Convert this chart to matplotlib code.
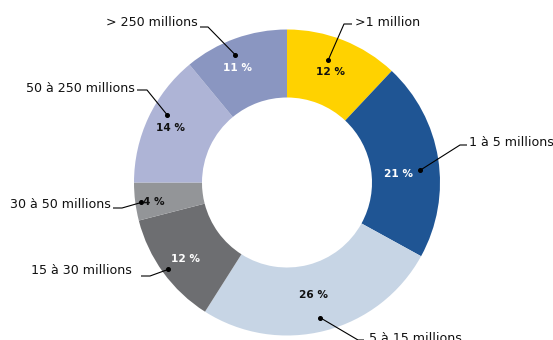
import numpy as np
import matplotlib
matplotlib.use("Agg")
import matplotlib.pyplot as plt

# Share of companies by revenue bracket
categories = [">1 million", "1 à 5 millions", "5 à 15 millions", "15 à 30 millions",
              "30 à 50 millions", "50 à 250 millions", "> 250 millions"]
shares = [12, 21, 26, 12, 4, 14, 11]

colors = ["#FFD200", "#1F5594", "#C7D5E5", "#6D6E71", "#939598", "#AEB4D6", "#8A96C1"]
pct_colors = ["#111111", "white", "#111111", "white", "#111111", "#111111", "white"]

W, H = 553, 340
cx, cy = 287, H - 182.5
R_OUT, R_IN = 153, 85

# per-slice placement of the percentage text and the leader dot (radius, angle shift)
pct_r = [119, 112, 116, 127, 135, 129, 125]
pct_da = [0.1, -4.4, -1.2, 1.3, 0.9, 0.0, 3.5]
dot_r = [129, 133.5, 139, 147, 147, 138, 138]
dot_da = [3.0, -3.8, -0.7, 0.2, 0.6, -4.3, 2.3]

# category label placement: text anchor, alignment, and leader elbow (top-origin pixels)
label_xy = [(355, 22), (469, 142), (369, 338), (132, 271), (111, 205), (135, 88), (198, 22)]
label_ha = ["left", "left", "left", "right", "right", "right", "right"]
elbows = [[(352, 24), (344, 24)],
          [(467, 145), (460, 145)],
          [(364, 340), (358, 340)],
          [(141, 276), (150, 276)],
          [(113, 208), (122, 208)],
          [(137, 90), (147, 90)],
          [(200, 27), (208, 27)]]

fig = plt.figure(figsize=(W / 100, H / 100), dpi=100)
ax = fig.add_axes([0, 0, 1, 1])

ax.pie(shares, colors=colors, startangle=90, counterclock=False,
       radius=R_OUT, center=(cx, cy),
       wedgeprops=dict(width=R_OUT - R_IN, linewidth=0))

total = float(sum(shares))
cum = np.cumsum([0] + shares)
for i, (cat, v) in enumerate(zip(categories, shares)):
    mid = 90 - 360 * (cum[i] + v / 2) / total
    a_t = np.deg2rad(mid + pct_da[i])
    tx, ty = cx + pct_r[i] * np.cos(a_t), cy + pct_r[i] * np.sin(a_t)
    ax.text(tx, ty, f"{v} %", ha="center", va="center", fontsize=7.6,
            fontweight="bold", color=pct_colors[i])

    a_d = np.deg2rad(mid + dot_da[i])
    dx, dy = cx + dot_r[i] * np.cos(a_d), cy + dot_r[i] * np.sin(a_d)
    pts = [(x, H - y) for x, y in elbows[i]] + [(dx, dy)]
    ax.plot([p[0] for p in pts], [p[1] for p in pts], color="black", lw=0.8,
            solid_capstyle="butt")
    ax.plot(dx, dy, "o", color="black", markersize=2.6)

    lx, ly = label_xy[i]
    ax.text(lx, H - ly, cat, ha=label_ha[i], va="center", fontsize=9.1,
            color="#111111")

ax.set_xlim(0, W)
ax.set_ylim(0, H)
ax.set_aspect("equal")
ax.axis("off")

fig.savefig("out.png", dpi=100)
